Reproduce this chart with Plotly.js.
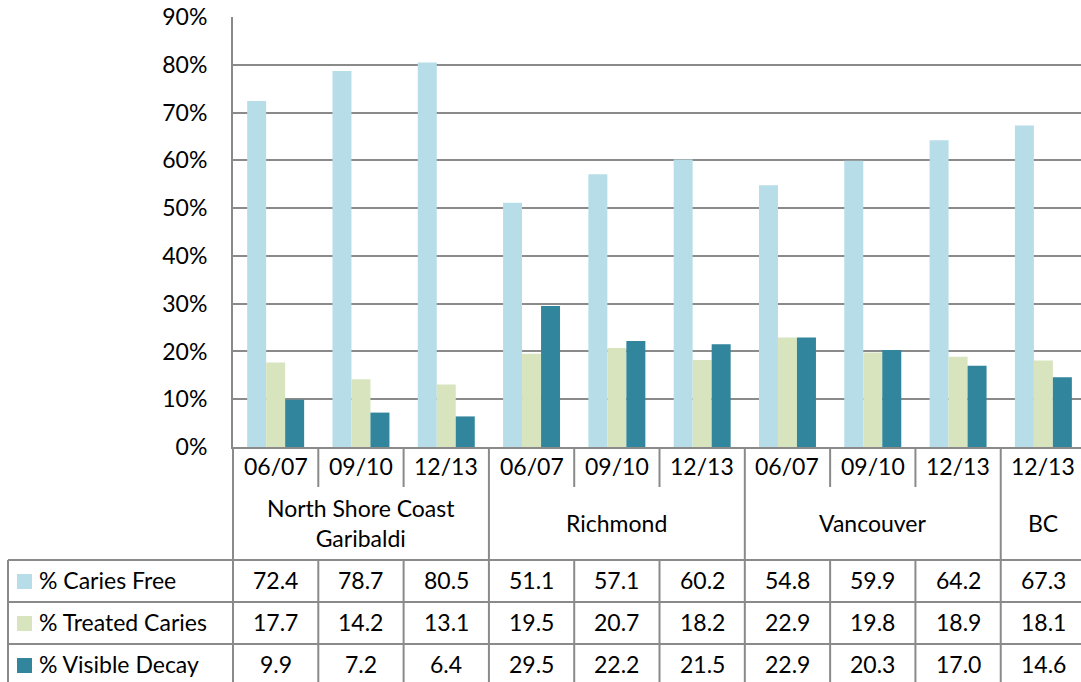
<!DOCTYPE html>
<html>
<head>
<meta charset="utf-8">
<script src="https://cdn.plot.ly/plotly-3.0.1.min.js"></script>
<style>
html,body{margin:0;padding:0;background:#fff;}
#chart{width:1081px;height:682px;}
</style>
</head>
<body>
<div id="chart"></div>
<script>
// ---- data ----
const periods = ['06/07','09/10','12/13','06/07','09/10','12/13','06/07','09/10','12/13','12/13'];
const groupNames = ['North Shore Coast<br>Garibaldi','Richmond','Vancouver','BC'];
const groupSizes = [3,3,3,1];
const seriesNames = ['% Caries Free','% Treated Caries','% Visible Decay'];
const cariesFree = [72.4,78.7,80.5,51.1,57.1,60.2,54.8,59.9,64.2,67.3];
const treatedCaries = [17.7,14.2,13.1,19.5,20.7,18.2,22.9,19.8,18.9,18.1];
const visibleDecay = [9.9,7.2,6.4,29.5,22.2,21.5,22.9,20.3,17.0,14.6];
const seriesColors = ['#B7DEE8','#D7E4BD','#31859C'];

// ---- layout helpers ----
const FONT = 'Lato, "Open Sans", sans-serif';
const FS = 23;
const W = 1081, H = 682;
const plotTop = 17, plotBottom = 447, plotLeft = 233;
const X0 = -0.5, X1 = 9.441;
const lineCol = '#8a8a8a';
const lineW = 2;
const py = Y => (plotBottom - Y) / (plotBottom - plotTop);   // pixel row -> paper y
const pxd = xd => (xd - X0) / (X1 - X0);                       // data x -> paper x
const ppx = X => (X - plotLeft) / (W - plotLeft);               // pixel col -> paper x

const idx = periods.map((_, i) => i);
const allSeries = [cariesFree, treatedCaries, visibleDecay];

const traces = allSeries.map((vals, s) => ({
  type: 'bar',
  x: idx,
  y: vals,
  name: seriesNames[s],
  marker: {color: seriesColors[s], line: {width: 0}},
  hoverinfo: 'skip'
}));

const shapes = [];
const annotations = [];

// table row boundaries (pixels)
const rowCatBottom = 487;
const rowTops = [560, 602, 644];
const tableBottom = 690;
const tableLeft = 8;

// horizontal lines of data table
rowTops.forEach(Y => {
  shapes.push({type:'line', xref:'paper', yref:'paper', x0: ppx(tableLeft), x1: 1.05, y0: py(Y), y1: py(Y),
    line:{color:lineCol, width:lineW}, layer:'above'});
});
// left border of the legend column
shapes.push({type:'line', xref:'paper', yref:'paper', x0: ppx(tableLeft), x1: ppx(tableLeft), y0: py(rowTops[0]), y1: py(tableBottom),
  line:{color:lineCol, width:lineW}, layer:'above'});
// y axis line continues through table
shapes.push({type:'line', xref:'paper', yref:'paper', x0: 0, x1: 0, y0: 0, y1: py(tableBottom),
  line:{color:lineCol, width:lineW}, layer:'above'});

// group boundaries & category boundaries
let start = 0;
const groupStarts = [];
groupSizes.forEach(sz => { groupStarts.push(start); start += sz; });
const groupBoundaries = new Set(groupStarts.concat([start]));
for (let b = 1; b <= periods.length; b++) {
  const xp = pxd(b - 0.5);
  if (xp > 1.001) continue;
  if (groupBoundaries.has(b)) {
    shapes.push({type:'line', xref:'paper', yref:'paper', x0: xp, x1: xp, y0: 0, y1: py(tableBottom),
      line:{color:lineCol, width:lineW}, layer:'above'});
  } else {
    shapes.push({type:'line', xref:'paper', yref:'paper', x0: xp, x1: xp, y0: 0, y1: py(rowCatBottom),
      line:{color:lineCol, width:lineW}, layer:'above'});
    shapes.push({type:'line', xref:'paper', yref:'paper', x0: xp, x1: xp, y0: py(rowTops[0]), y1: py(tableBottom),
      line:{color:lineCol, width:lineW}, layer:'above'});
  }
}

// period labels (category axis row)
periods.forEach((p, i) => {
  annotations.push({text: p, xref:'x', yref:'paper', x: i, y: py(466), xanchor:'center', yanchor:'middle',
    showarrow:false, font:{family:FONT, size:FS, color:'#000'}});
});

// group labels
groupNames.forEach((g, k) => {
  const c = groupStarts[k] + (groupSizes[k] - 1) / 2;
  annotations.push({text: g, xref:'x', yref:'paper', x: c, y: py(523), xanchor:'center', yanchor:'middle',
    showarrow:false, font:{family:FONT, size:FS, color:'#000'}, align:'center'});
});

// data table values + legend keys
const rowCenters = [580, 622, 664];
allSeries.forEach((vals, s) => {
  vals.forEach((v, i) => {
    annotations.push({text: v.toFixed(1), xref:'x', yref:'paper', x: i, y: py(rowCenters[s]),
      xanchor:'center', yanchor:'middle', showarrow:false, font:{family:FONT, size:FS, color:'#000'}});
  });
  shapes.push({type:'rect', xref:'paper', yref:'paper', x0: ppx(17), x1: ppx(32),
    y0: py(rowCenters[s] - 6), y1: py(rowCenters[s] + 9), fillcolor: seriesColors[s], line:{width:0}, layer:'above'});
  annotations.push({text: seriesNames[s], xref:'paper', yref:'paper', x: ppx(37), y: py(rowCenters[s]),
    xanchor:'left', yanchor:'middle', showarrow:false, font:{family:FONT, size:FS, color:'#000'}});
});

const layout = {
  width: W, height: H,
  margin: {l: plotLeft, r: 0, t: plotTop, b: H - plotBottom, pad: 0},
  paper_bgcolor: '#fff', plot_bgcolor: '#fff',
  showlegend: false,
  barmode: 'group',
  bargap: 0.332,
  bargroupgap: 0,
  font: {family: FONT, size: FS, color: '#000'},
  xaxis: {
    range: [X0, X1], tickvals: idx, showticklabels: false, showgrid: false, zeroline: false,
    showline: true, linecolor: lineCol, linewidth: lineW, ticks: '', fixedrange: true
  },
  yaxis: {
    range: [0, 90], dtick: 10, ticksuffix: '%', showgrid: true, gridcolor: lineCol, gridwidth: lineW,
    zeroline: false, showline: true, linecolor: lineCol, linewidth: lineW, ticks: '',
    ticklabelstandoff: 19, tickfont: {family: FONT, size: FS, color: '#000'}, fixedrange: true
  },
  shapes: shapes,
  annotations: annotations
};

Plotly.newPlot('chart', traces, layout, {displayModeBar: false, staticPlot: true});
</script>
</body>
</html>
